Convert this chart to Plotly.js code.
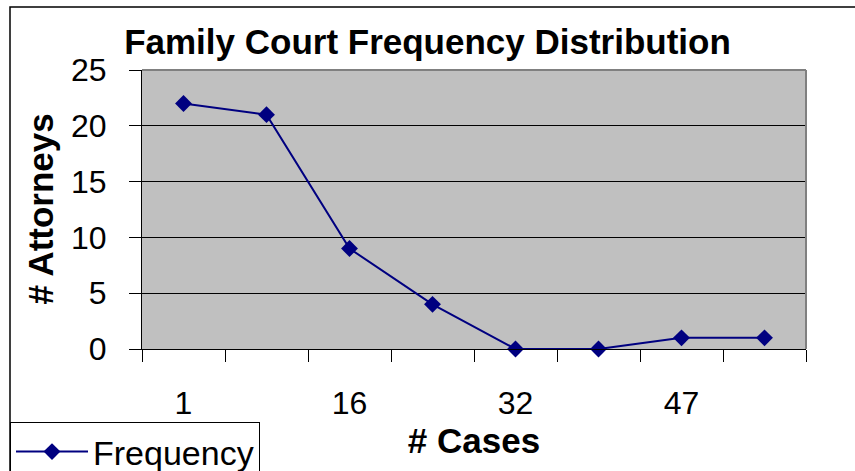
<!DOCTYPE html>
<html>
<head>
<meta charset="utf-8">
<script src="https://cdn.plot.ly/plotly-3.0.1.min.js"></script>
<style>html,body{margin:0;padding:0;background:#fff;}#chart{width:855px;height:471px;}</style>
</head>
<body>
<div id="chart"></div>
<script>
// Data
const categories = ["1", "9", "16", "24", "32", "40", "47", "55"];
const frequency = [22, 21, 9, 4, 0, 0, 1, 1];
const shownLabels = ["1", "", "16", "", "32", "", "47", ""];
const yTicks = [0, 5, 10, 15, 20, 25];

const FONT = "Arial, 'Liberation Sans', sans-serif";
const W = 855, H = 471;
const L = 142, R = 49, T = 70, B = 122;
const PW = W - L - R, PH = H - T - B;
const px = x => (x - L) / PW;
const py = y => (H - B - y) / PH;

const trace = {
  x: categories,
  y: frequency,
  type: "scatter",
  mode: "lines+markers",
  name: "Frequency",
  line: {color: "#000080", width: 2},
  marker: {symbol: "diamond", size: 13, color: "#000080"},
  cliponaxis: false
};

const layout = {
  width: W, height: H,
  margin: {l: L, r: R, t: T, b: B, pad: 0, autoexpand: false},
  paper_bgcolor: "#ffffff",
  plot_bgcolor: "#c0c0c0",
  font: {family: FONT, color: "#000"},
  title: {
    text: "<b>Family Court Frequency Distribution</b>",
    font: {family: FONT, size: 35, color: "#000"},
    x: 427.5 / W, xref: "container", xanchor: "center",
    y: 1 - 42 / H, yanchor: "middle", yref: "container"
  },
  xaxis: {
    type: "category",
    categoryorder: "array",
    categoryarray: categories,
    tickmode: "array",
    tickvals: categories,
    ticktext: shownLabels,
    tickson: "boundaries",
    ticks: "outside", ticklen: 12, tickwidth: 1, tickcolor: "#000",
    ticklabelstandoff: 26,
    tickfont: {family: FONT, size: 32, color: "#000"},
    showgrid: false,
    showline: true, linecolor: "#000", linewidth: 1,
    zeroline: false,
    range: [-0.5, 7.5],
    title: {text: "<b># Cases</b>", font: {family: FONT, size: 35, color: "#000"}, standoff: 4}
  },
  yaxis: {
    range: [0, 25],
    tickmode: "array",
    tickvals: yTicks,
    ticks: "outside", ticklen: 12, tickwidth: 1, tickcolor: "#000",
    ticklabelstandoff: 16,
    tickfont: {family: FONT, size: 32, color: "#000"},
    showgrid: true, gridcolor: "#000", gridwidth: 1,
    showline: true, linecolor: "#000", linewidth: 1,
    zeroline: false
  },
  annotations: [
    {text: "<b># Attorneys</b>", xref: "paper", yref: "paper",
     x: px(40), y: 0.5, xanchor: "center", yanchor: "middle",
     textangle: -90, showarrow: false,
     font: {family: FONT, size: 35, color: "#000"}}
  ],
  showlegend: true,
  legend: {
    xref: "container", yref: "container",
    x: 10 / W, y: 1 - 422 / H, xanchor: "left", yanchor: "top",
    bgcolor: "#ffffff", bordercolor: "#000", borderwidth: 1,
    font: {family: FONT, size: 34, color: "#000"},
    itemwidth: 72
  },
  shapes: [
    {type: "line", xref: "paper", yref: "paper", x0: 0, x1: 1, y0: 1, y1: 1,
     line: {color: "#808080", width: 2}, layer: "above"},
    {type: "line", xref: "paper", yref: "paper", x0: 1, x1: 1, y0: 0, y1: 1,
     line: {color: "#808080", width: 2}, layer: "above"},
    {type: "rect", xref: "paper", yref: "paper",
     x0: px(10), x1: px(870), y0: py(490), y1: py(7),
     line: {color: "#000", width: 1.5}, fillcolor: "rgba(0,0,0,0)", layer: "below"}
  ]
};

Plotly.newPlot("chart", [trace], layout, {displayModeBar: false, staticPlot: true});
</script>
</body>
</html>
